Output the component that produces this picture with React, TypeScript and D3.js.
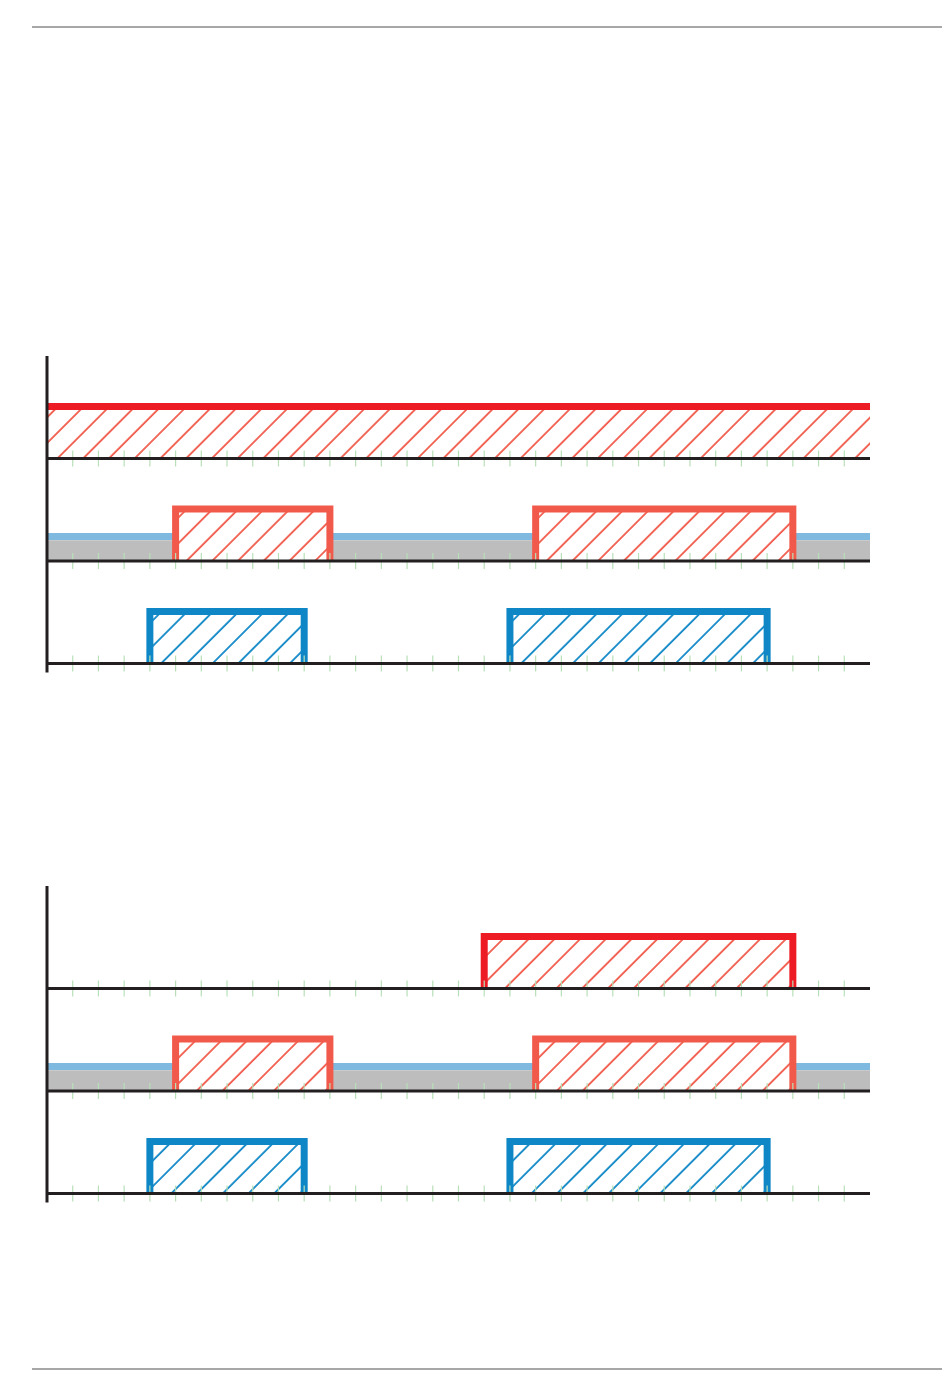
import React, { useEffect, useRef } from 'react';
import * as d3 from 'd3';

// time axis: 32 equal units, a tick at every unit
const UNITS = 32;
const tickUnits = d3.range(1, UNITS);

// pulses as [start, end] in time units
const chart1Red: [number, number][] = [[0, 32]];
const chart2Red: [number, number][] = [[17, 29]];
const orangePulses: [number, number][] = [[5, 11], [19, 29]];
const bluePulses: [number, number][] = [[4, 10], [18, 28]];

// background levels of the middle row (0..1 of pulse height)
const grayLevel = 0.4;
const blueStripLevel = 0.47;

const chartTops = [356, 886];

const W = 950;
const H = 1397;

const App: React.FC = () => {
  const svgRef = useRef<SVGSVGElement>(null);

  useEffect(() => {
    if (!svgRef.current) return;
    const svg = d3.select(svgRef.current);
    svg.selectAll('*').remove();

    const x = d3.scaleLinear().domain([0, UNITS]).range([47, 870]);
    const rowH = 102.5;
    const pulseH = 52;

    // hatch patterns
    const defs = svg.append('defs');
    const hatch = (id: string, color: string) => {
      const p = defs.append('pattern')
        .attr('id', id)
        .attr('patternUnits', 'userSpaceOnUse')
        .attr('width', 18.19)
        .attr('height', 10)
        .attr('patternTransform', 'rotate(45)');
      p.append('line')
        .attr('x1', 1).attr('x2', 1)
        .attr('y1', -2).attr('y2', 12)
        .attr('stroke', color)
        .attr('stroke-width', 1.8);
    };
    hatch('hatch-red', '#f15a4a');
    hatch('hatch-blue', '#0f87c6');

    // page rules
    [27, 1369].forEach(y => {
      svg.append('line')
        .attr('x1', 32).attr('x2', 942)
        .attr('y1', y).attr('y2', y)
        .attr('stroke', '#8a8a8a')
        .attr('stroke-width', 1.5);
    });

    const drawPulses = (g: any, pulses: [number, number][], base: number, stroke: string, pat: string) => {
      const y = d3.scaleLinear().domain([0, 1]).range([base, base - pulseH]);
      pulses.forEach(([a, b]) => {
        g.append('rect')
          .attr('x', x(a)).attr('y', y(1))
          .attr('width', x(b) - x(a)).attr('height', base - y(1))
          .attr('fill', '#fff');
        g.append('rect')
          .attr('x', x(a)).attr('y', y(1))
          .attr('width', x(b) - x(a)).attr('height', base - y(1))
          .attr('fill', `url(#${pat})`);
        const pts: [number, number][] = [];
        if (a > 0) pts.push([x(a), y(0)]);
        pts.push([x(a), y(1)], [x(b), y(1)]);
        if (b < UNITS) pts.push([x(b), y(0)]);
        g.append('path')
          .attr('d', d3.line()(pts))
          .attr('fill', 'none')
          .attr('stroke', stroke)
          .attr('stroke-width', 7)
          .attr('stroke-linejoin', 'miter');
      });
    };

    const charts = [
      { top: chartTops[0], red: chart1Red },
      { top: chartTops[1], red: chart2Red },
    ];

    charts.forEach(c => {
      const g = svg.append('g');
      const base = (r: number) => c.top + rowH * (r + 1);

      // middle row background: gray fill + blue strip
      const y1 = d3.scaleLinear().domain([0, 1]).range([base(1), base(1) - pulseH]);
      g.append('rect')
        .attr('x', x(0)).attr('y', y1(grayLevel))
        .attr('width', x(UNITS) - x(0)).attr('height', base(1) - y1(grayLevel))
        .attr('fill', '#bdbdbd');
      g.append('line')
        .attr('x1', x(0)).attr('x2', x(UNITS))
        .attr('y1', y1(blueStripLevel)).attr('y2', y1(blueStripLevel))
        .attr('stroke', '#80b9df')
        .attr('stroke-width', 7);

      drawPulses(g, c.red, base(0), '#ed1c24', 'hatch-red');
      drawPulses(g, orangePulses, base(1), '#f15a4a', 'hatch-red');
      drawPulses(g, bluePulses, base(2), '#0f87c6', 'hatch-blue');

      // ticks and baselines
      [0, 1, 2].forEach(r => {
        g.append('g')
          .selectAll('line')
          .data(tickUnits)
          .join('line')
          .attr('x1', d => x(d)).attr('x2', d => x(d))
          .attr('y1', base(r) - 8).attr('y2', base(r) + 8)
          .attr('stroke', '#b8e0b8')
          .attr('stroke-width', 1.2);
        g.append('line')
          .attr('x1', x(0)).attr('x2', x(UNITS))
          .attr('y1', base(r)).attr('y2', base(r))
          .attr('stroke', '#231f20')
          .attr('stroke-width', 3);
      });

      // vertical axis
      g.append('line')
        .attr('x1', x(0)).attr('x2', x(0))
        .attr('y1', c.top).attr('y2', base(2) + 9)
        .attr('stroke', '#231f20')
        .attr('stroke-width', 3);
    });
  }, []);

  return (
    <div style={{ position: 'absolute', left: 0, top: 0, width: W, height: H, background: '#fff' }}>
      <svg ref={svgRef} width={W} height={H} style={{ display: 'block' }} />
    </div>
  );
};

export default App;
